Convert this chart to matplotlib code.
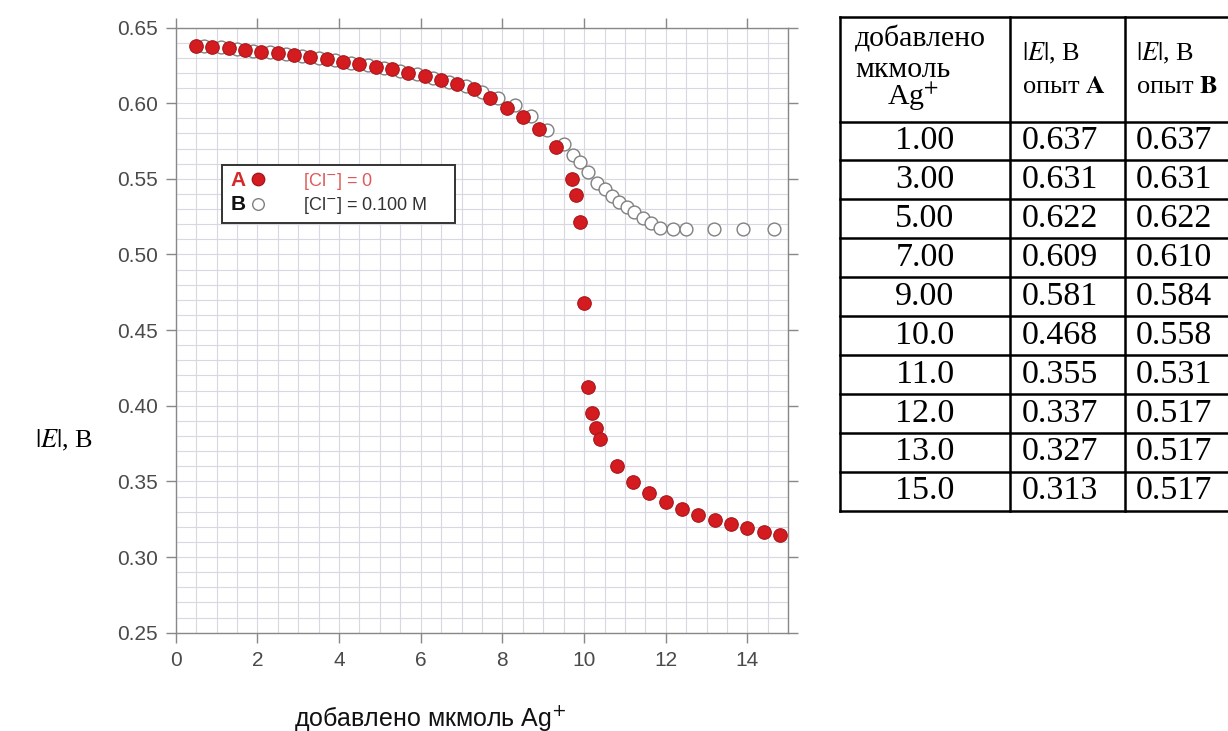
import matplotlib
matplotlib.use('Agg')
import matplotlib.pyplot as plt
from matplotlib.ticker import MultipleLocator
from matplotlib.patches import Rectangle

# series A: [Cl-] = 0  (filled red)
xA = [0.5, 0.9, 1.3, 1.7, 2.1, 2.5, 2.9, 3.3, 3.7, 4.1, 4.5, 4.9, 5.3, 5.7, 6.1, 6.5,
      6.9, 7.3, 7.7, 8.1, 8.5, 8.9, 9.3, 9.7, 9.8, 9.9, 10.0, 10.1, 10.2, 10.3, 10.4,
      10.8, 11.2, 11.6, 12.0, 12.4, 12.8, 13.2, 13.6, 14.0, 14.4, 14.8]
yA = [0.638, 0.637, 0.6365, 0.635, 0.634, 0.633, 0.6316, 0.6303, 0.629, 0.6274,
      0.6259, 0.6241, 0.6224, 0.6201, 0.618, 0.6153, 0.6127, 0.6092, 0.6035, 0.5966,
      0.591, 0.5827, 0.5712, 0.5497, 0.5393, 0.5212, 0.4677, 0.4126, 0.3954, 0.3855,
      0.3778, 0.3602, 0.3498, 0.3425, 0.3366, 0.3318, 0.3278, 0.3245, 0.3216, 0.319,
      0.3168, 0.3146]

# series B: [Cl-] = 0.100 M  (open circles)
xB = [0.7, 1.1, 1.5, 1.9, 2.3, 2.7, 3.1, 3.5, 3.9, 4.3, 4.7, 5.1, 5.5, 5.9, 6.3, 6.7,
      7.1, 7.5, 7.9, 8.3, 8.7, 9.1, 9.5, 9.72, 9.9, 10.09, 10.31, 10.5, 10.68, 10.86,
      11.04, 11.23, 11.43, 11.64, 11.87, 12.17, 12.49, 13.19, 13.9, 14.65]
yB = [0.6378, 0.6369, 0.6358, 0.6346, 0.6335, 0.6322, 0.631, 0.6297, 0.6282, 0.6267,
      0.625, 0.6233, 0.6213, 0.6191, 0.6167, 0.6141, 0.6111, 0.6076, 0.6035, 0.5985,
      0.5915, 0.582, 0.573, 0.5657, 0.5613, 0.5547, 0.5474, 0.5431, 0.5386, 0.5349,
      0.5312, 0.5279, 0.5243, 0.521, 0.5175, 0.5166, 0.5166, 0.5166, 0.5166, 0.5166]

# table
tbl_x = ['1.00', '3.00', '5.00', '7.00', '9.00', '10.0', '11.0', '12.0', '13.0', '15.0']
tbl_a = ['0.637', '0.631', '0.622', '0.609', '0.581', '0.468', '0.355', '0.337', '0.327', '0.313']
tbl_b = ['0.637', '0.631', '0.622', '0.610', '0.584', '0.558', '0.531', '0.517', '0.517', '0.517']

plt.rcParams['font.family'] = ['Liberation Sans', 'DejaVu Sans']

W, H = 1228, 731
fig = plt.figure(figsize=(W / 100, H / 100), dpi=100)
fig.patch.set_facecolor('white')

ax = fig.add_axes([175.7 / W, 1 - 632.7 / H, 612.6 / W, 605.2 / H])
ax.set_xlim(0, 15)
ax.set_ylim(0.25, 0.65)

ax.xaxis.set_major_locator(MultipleLocator(2))
ax.yaxis.set_major_locator(MultipleLocator(0.05))
ax.xaxis.set_minor_locator(MultipleLocator(0.5))
ax.yaxis.set_minor_locator(MultipleLocator(0.01))
ax.yaxis.set_major_formatter(plt.FormatStrFormatter('%.2f'))
ax.grid(which='both', color='#d8d8e2', lw=0.8, zorder=0)
ax.set_axisbelow(True)

ax.tick_params(which='major', direction='out', length=7, width=1, color='#888888',
               labelsize=15, labelcolor='#4a4a4a', top=True, right=True, pad=6)
ax.tick_params(which='minor', length=0, top=True, right=True)
for s in ax.spines.values():
    s.set_color('#888888')
    s.set_linewidth(1)

ax.scatter(xB, yB, s=85, facecolor='white', edgecolor='#808080', linewidth=1.0, zorder=3)
ax.scatter(xA, yA, s=95, facecolor='#d41c20', edgecolor='#a8161a', linewidth=0.8, zorder=4)

# legend box
tr = ax.transAxes
ax.add_patch(Rectangle((0.0756, 0.677), 0.380, 0.096, transform=tr, facecolor='white',
                       edgecolor='#333333', lw=1.4, zorder=5))
ax.text(0.090, 0.748, 'A', transform=tr, color='#d42a2a', fontsize=15, fontweight='bold',
        va='center', zorder=6)
ax.text(0.090, 0.708, 'B', transform=tr, color='#111111', fontsize=15, fontweight='bold',
        va='center', zorder=6)
ax.scatter([0.135], [0.749], transform=tr, s=80, facecolor='#d41c20', edgecolor='#a8161a',
           zorder=6)
ax.scatter([0.135], [0.709], transform=tr, s=70, facecolor='white', edgecolor='#808080',
           zorder=6)
ax.text(0.208, 0.745, '[Cl$^{-}$] = 0', transform=tr, color='#e0595b', fontsize=13,
        va='center', zorder=6)
ax.text(0.208, 0.706, '[Cl$^{-}$] = 0.100 M', transform=tr, color='#333333', fontsize=13,
        va='center', zorder=6)

# axis labels
fig.text(430 / W, 1 - 718 / H, 'добавлено мкмоль Ag$^{+}$', fontsize=18, ha='center',
         va='center', color='#111111')
fig.text(35 / W, 1 - 440 / H, r'$|E|$, В', fontsize=19, ha='left', va='center',
         family='Liberation Serif', math_fontfamily='stix')

# table drawn in pixel coordinates
tax = fig.add_axes([0, 0, 1, 1])
tax.set_xlim(0, W)
tax.set_ylim(H, 0)
tax.axis('off')
tax.patch.set_alpha(0)

top, head, rowh = 17, 121.5, 38.9
nrows = len(tbl_x)
bottom = head + rowh * nrows
lw = 1.8
tax.plot([840, 1240], [top, top], color='black', lw=lw)
for i in range(nrows + 1):
    yy = head + rowh * i
    tax.plot([840, 1240], [yy, yy], color='black', lw=lw)
for xx in [840, 1010, 1125]:
    tax.plot([xx, xx], [top, bottom], color='black', lw=lw)

serif = 'Liberation Serif'
tax.text(855, 47, 'добавлено', family=serif, fontsize=21.5, va='baseline')
tax.text(855, 77, 'мкмоль', family=serif, fontsize=21.5, va='baseline')
tax.text(887, 105, 'Ag$^{+}$', family=serif, fontsize=21.5, va='baseline', math_fontfamily='stix')
for x0, lab in [(1022, 'A'), (1136, 'B')]:
    tax.text(x0, 60, r'$|E|$, В', family=serif, fontsize=19, va='baseline',
             math_fontfamily='stix')
    tax.text(x0, 93, 'опыт $\\mathbf{%s}$' % lab, family=serif, fontsize=19, va='baseline',
             math_fontfamily='stix')

for i in range(nrows):
    yc = head + rowh * (i + 0.5)
    tax.text(925, yc, tbl_x[i], family=serif, fontsize=24.5, ha='center', va='center')
    tax.text(1022, yc, tbl_a[i], family=serif, fontsize=24.5, ha='left', va='center')
    tax.text(1136, yc, tbl_b[i], family=serif, fontsize=24.5, ha='left', va='center')

fig.savefig('out.png', dpi=100)
